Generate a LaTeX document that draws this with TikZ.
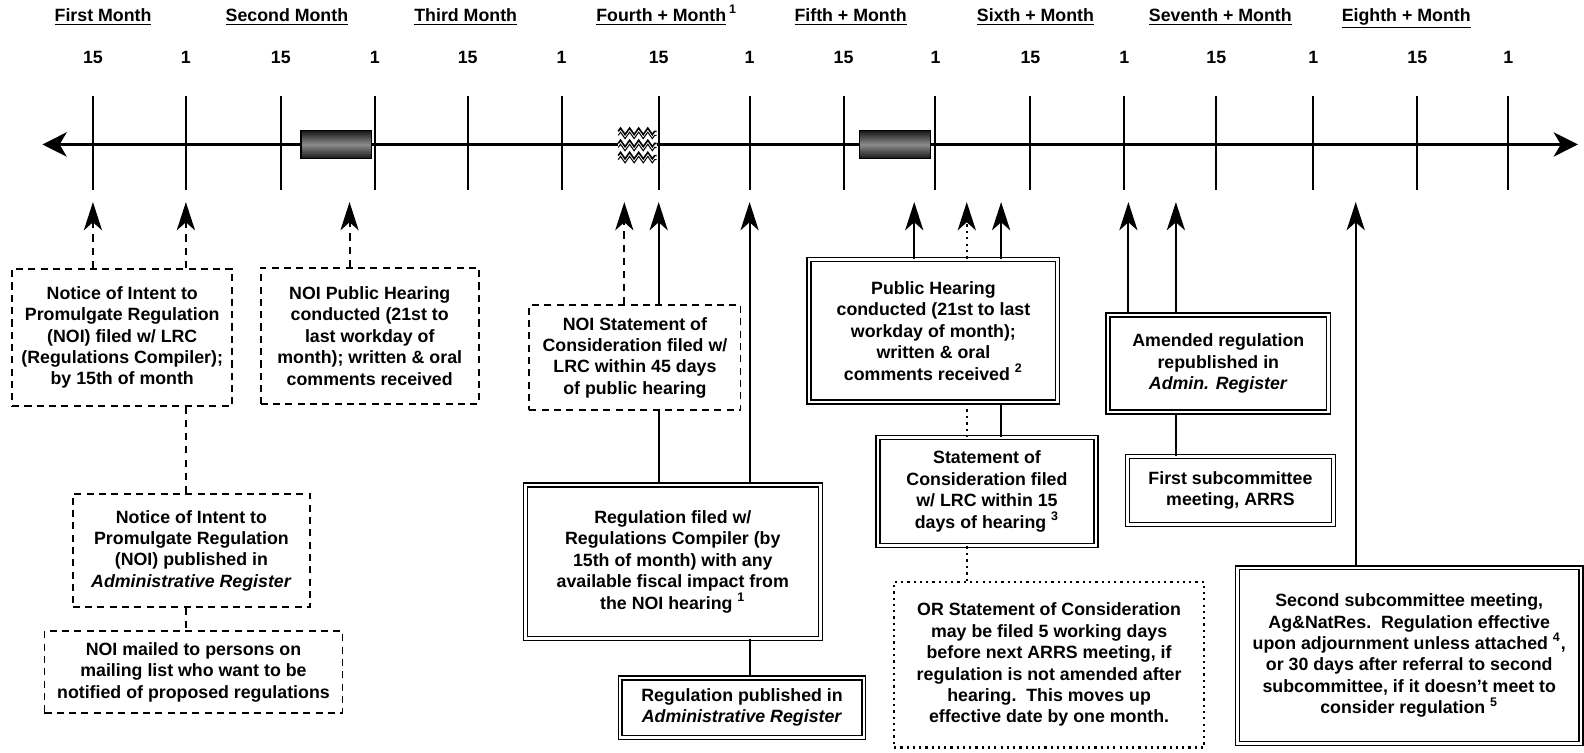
\documentclass[tikz,border=0pt]{standalone}
\usepackage{fontspec}
\setmainfont{Liberation Sans}
\usetikzlibrary{arrows.meta,decorations.pathmorphing}

\begin{document}
\begin{tikzpicture}[x=0.5pt,y=-0.5pt,
        every node/.style={font=\fontsize{8.8}{10.6}\selectfont\bfseries},
        mon/.style={anchor=base},
        box/.style={align=center,inner sep=2pt},
        dbox/.style={box,draw,line width=0.9pt,dash pattern=on 3.5pt off 2.6pt},
        wbox/.style={box,draw,double,double distance=1.2pt,line width=0.75pt},
        obox/.style={box,draw,line width=1.1pt,dotted},
        arr/.style={-{Stealth[length=14pt,width=9pt,inset=4pt]},line width=1pt},
        darr/.style={arr,dash pattern=on 3.5pt off 3pt},
        parr/.style={arr,line width=1.2pt,dotted},
        link/.style={line width=1pt},
        dlink/.style={link,dash pattern=on 3.5pt off 3pt},
        plink/.style={link,line width=1.2pt,dotted},
        tick/.style={line width=1pt},
        hbar/.style={draw,line width=0.6pt,minimum width=35pt,minimum height=14pt,
                     inner sep=0pt,top color=black!92,bottom color=black!92,
                     middle color=black!45},
        wavy/.style={line width=0.8pt,decorate,
                     decoration={zigzag,segment length=4.5pt,amplitude=1.6pt}},
      ]
        \useasboundingbox (0,0) rectangle (1568,745);

        \node[mon] (m1) at (102,21) {\underline{First Month}};
        \node[mon] (m2) at (284,21) {\underline{Second Month}};
        \node[mon] (m3) at (461,21) {\underline{Third Month}};
        \node[mon] (m4) at (660,21) {\underline{Fourth + Month}\,\textsuperscript{1}};
        \node[mon] (m5) at (842,21) {\underline{Fifth + Month}};
        \node[mon] (m6) at (1025,21) {\underline{Sixth + Month}};
        \node[mon] (m7) at (1208,21) {\underline{Seventh + Month}};
        \node[mon] (m8) at (1392,21) {\underline{Eighth + Month}};

        \foreach \x/\d [count=\i] in {92/15,184/1,278/15,371/1,463/15,556/1,652/15,742/1,
                                      835/15,926/1,1020/15,1113/1,1204/15,1300/1,1403/15,1493/1}{
          \node (n\i) at (\x,57) {\d};
          \draw[tick] (\x,95) -- (\x,188);
        }

        \coordinate (tl) at (42,143);
        \coordinate (tr) at (1562,143);
        \draw[line width=1.5pt,{Stealth[length=12pt,width=12pt,inset=3.5pt]}-{Stealth[length=12pt,width=12pt,inset=3.5pt]}] (tl) -- (tr);

        \node[hbar] (bar1) at (333,143) {};
        \node[hbar] (bar2) at (886,143) {};
        \node[fill=white,minimum width=19pt,minimum height=17pt,inner sep=0pt] (wave) at (631,143) {};
        \foreach \yy in {130,142,154}{
          \draw[wavy] (612,\yy) -- (650,\yy);
          \draw[wavy,line width=0.5pt] (612,\yy+4) -- (650,\yy+4);
        }

        \node[dbox,minimum width=109pt,minimum height=68pt] (noi) at (121,334)
          {Notice of Intent to\\Promulgate Regulation\\(NOI) filed w/ LRC\\(Regulations Compiler);\\by 15th of month};
        \node[dbox,minimum width=108pt,minimum height=67.5pt] (noiph) at (366,332.5)
          {NOI Public Hearing\\conducted (21st to\\last workday of\\month); written \& oral\\comments received};
        \node[dbox,minimum width=117.5pt,minimum height=56pt] (noipub) at (189.5,545)
          {Notice of Intent to\\Promulgate Regulation\\(NOI) published in\\\textit{Administrative Register}};
        \node[dbox,minimum width=147.5pt,minimum height=40.5pt] (noimail) at (191.5,665.5)
          {NOI mailed to persons on\\mailing list who want to be\\notified of proposed regulations};
        \node[dbox,minimum width=104.5pt,minimum height=52pt] (noisoc) at (628.5,354)
          {NOI Statement of\\Consideration filed w/\\LRC within 45 days\\of public hearing};
        \node[wbox,minimum width=146pt,minimum height=76pt] (regfile) at (666,556)
          {Regulation filed w/\\Regulations Compiler (by\\15th of month) with any\\available fiscal impact from\\the NOI hearing \textsuperscript{1}};
        \node[wbox,minimum width=120.5pt,minimum height=29.5pt] (regpub) at (734.5,700.5)
          {Regulation published in\\\textit{Administrative Register}};
        \node[wbox,minimum width=123pt,minimum height=70.5pt] (ph) at (924,327.5)
          {Public Hearing\\conducted (21st to last\\workday of month);\\written \& oral\\comments received \textsuperscript{2}};
        \node[wbox,minimum width=108pt,minimum height=53.5pt] (soc) at (977,486.5)
          {Statement of\\Consideration filed\\w/ LRC within 15\\days of hearing \textsuperscript{3}};
        \node[obox,minimum width=153.5pt,minimum height=82pt] (orsoc) at (1038.5,658)
          {OR Statement of Consideration\\may be filed 5 working days\\before next ARRS meeting, if\\regulation is not amended after\\hearing.\ \ This moves up\\effective date by one month.};
        \node[wbox,minimum width=109pt,minimum height=48pt] (amend) at (1206,360)
          {Amended regulation\\republished in\\\textit{Admin. Register}};
        \node[wbox,minimum width=102pt,minimum height=33.5pt] (sub1) at (1218,485.5)
          {First subcommittee\\meeting, ARRS};
        \node[wbox,minimum width=170pt,minimum height=87pt] (sub2) at (1395,649)
          {Second subcommittee meeting,\\Ag\&NatRes.\ \ Regulation effective\\upon adjournment unless attached \textsuperscript{4},\\or 30 days after referral to second\\subcommittee, if it doesn't meet to\\consider regulation \textsuperscript{5}};

        \coordinate (a1) at (92,200);
        \coordinate (a2) at (184,200);
        \coordinate (a3) at (346,200);
        \coordinate (a4) at (618,200);
        \coordinate (a5) at (652,200);
        \coordinate (a6) at (742,200);
        \coordinate (a7) at (905,200);
        \coordinate (a8) at (957,200);
        \coordinate (a9) at (991,200);
        \coordinate (a10) at (1117,200);
        \coordinate (a11) at (1164,200);
        \coordinate (a12) at (1342,200);

        \draw[darr](noi.north -| a1)--(a1);
        \draw[darr](noi.north -| a2)--(a2);
        \draw[darr](noiph.north -| a3)--(a3);
        \draw[darr](noisoc.north -| a4)--(a4);
        \draw[arr](noisoc.north -| a5)--(a5);
        \draw[arr](regfile.north -| a6)--(a6);
        \draw[arr](ph.north -| a7)--(a7);
        \draw[parr](ph.north -| a8)--(a8);
        \draw[arr](ph.north -| a9)--(a9);
        \draw[arr](amend.north -| a10)--(a10);
        \draw[arr](amend.north -| a11)--(a11);
        \draw[arr](sub2.north -| a12)--(a12);

        \draw[dlink](noi.south -| a2)--(noipub.north -| a2);
        \draw[dlink](noipub.south -| a2)--(noimail.north -| a2);
        \draw[link](noisoc.south -| a5)--(regfile.north -| a5);
        \draw[link](regfile.south -| a6)--(regpub.north -| a6);
        \draw[plink](ph.south -| a8)--(soc.north -| a8);
        \draw[link](ph.south -| a9)--(soc.north -| a9);
        \draw[plink](soc.south -| a8)--(orsoc.north -| a8);
        \draw[link](amend.south -| a11)--(sub1.north -| a11);
      \end{tikzpicture}
\end{document}
